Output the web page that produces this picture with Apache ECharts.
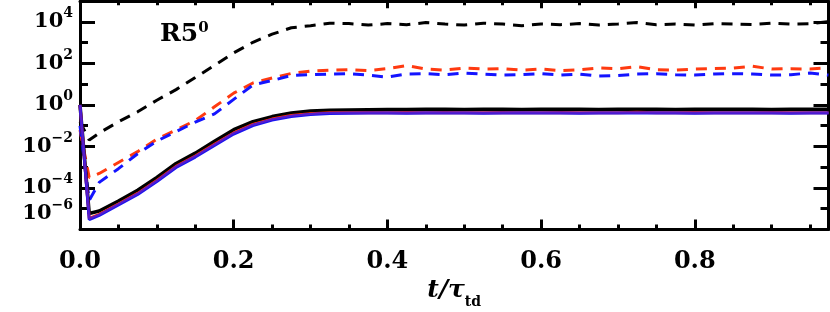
<!DOCTYPE html>
<html><head><meta charset="utf-8">
<script src="https://cdn.jsdelivr.net/npm/echarts@6/dist/echarts.min.js"></script>
<style>html,body{margin:0;padding:0;background:#fff}#c{width:830px;height:312px}</style>
</head><body><div id="c"></div>
<script>
// time in units of t / tau_td
const tValues = [0, 0.012, 0.025, 0.05, 0.075, 0.1, 0.125, 0.15, 0.175, 0.2, 0.225, 0.25, 0.275, 0.3, 0.325, 0.35, 0.375, 0.4, 0.425, 0.45, 0.475, 0.5, 0.525, 0.55, 0.575, 0.6, 0.625, 0.65, 0.675, 0.7, 0.725, 0.75, 0.775, 0.8, 0.825, 0.85, 0.875, 0.9, 0.925, 0.95, 0.974];
// log10 of plotted quantities
const blackDashedLog = [-0.8, -1.69, -1.35, -0.81, -0.33, 0.23, 0.74, 1.32, 1.91, 2.51, 3.02, 3.41, 3.72, 3.82, 3.94, 3.92, 3.85, 3.92, 3.87, 3.97, 3.90, 3.85, 3.94, 3.90, 3.82, 3.90, 3.87, 3.92, 3.85, 3.90, 3.97, 3.87, 3.90, 3.85, 3.92, 3.90, 3.87, 3.94, 3.90, 3.92, 4.02];
const redDashedLog = [-1.2, -3.5, -3.30, -2.77, -2.25, -1.64, -1.20, -0.75, -0.09, 0.57, 1.06, 1.30, 1.52, 1.63, 1.68, 1.70, 1.66, 1.75, 1.90, 1.73, 1.68, 1.78, 1.73, 1.75, 1.68, 1.73, 1.66, 1.70, 1.78, 1.75, 1.85, 1.70, 1.68, 1.73, 1.75, 1.78, 1.87, 1.73, 1.75, 1.73, 1.80];
const blueDashedLog = [-1.0, -4.6, -3.73, -3.07, -2.35, -1.74, -1.28, -0.83, -0.43, 0.27, 0.96, 1.18, 1.42, 1.46, 1.49, 1.51, 1.44, 1.34, 1.49, 1.51, 1.46, 1.54, 1.49, 1.44, 1.46, 1.51, 1.44, 1.49, 1.39, 1.42, 1.49, 1.51, 1.46, 1.44, 1.49, 1.51, 1.49, 1.44, 1.46, 1.54, 1.44];
const blackSolidLog = [0, -5.23, -5.11, -4.63, -4.11, -3.49, -2.82, -2.32, -1.75, -1.19, -0.80, -0.56, -0.39, -0.29, -0.26, -0.24, -0.23, -0.22, -0.22, -0.21, -0.21, -0.22, -0.21, -0.21, -0.22, -0.21, -0.21, -0.21, -0.22, -0.21, -0.21, -0.21, -0.22, -0.21, -0.21, -0.21, -0.21, -0.22, -0.21, -0.21, -0.21];
const redSolidLog = [0, -5.46, -5.27, -4.77, -4.26, -3.64, -2.96, -2.46, -1.90, -1.35, -0.94, -0.68, -0.51, -0.42, -0.38, -0.37, -0.36, -0.37, -0.36, -0.37, -0.36, -0.37, -0.37, -0.36, -0.37, -0.37, -0.36, -0.37, -0.37, -0.37, -0.35, -0.37, -0.37, -0.36, -0.37, -0.37, -0.37, -0.36, -0.37, -0.37, -0.37];
const blueSolidLog = [0, -5.52, -5.32, -4.82, -4.31, -3.69, -3.01, -2.51, -1.95, -1.40, -0.99, -0.73, -0.56, -0.46, -0.41, -0.40, -0.39, -0.39, -0.40, -0.39, -0.39, -0.39, -0.40, -0.39, -0.39, -0.39, -0.39, -0.40, -0.39, -0.39, -0.39, -0.39, -0.39, -0.40, -0.39, -0.39, -0.39, -0.39, -0.40, -0.39, -0.39];
const purpleSolidLog = [0, -5.48, -5.28, -4.78, -4.27, -3.65, -2.97, -2.47, -1.91, -1.36, -0.95, -0.69, -0.52, -0.43, -0.38, -0.37, -0.37, -0.37, -0.37, -0.36, -0.37, -0.37, -0.37, -0.37, -0.36, -0.37, -0.37, -0.37, -0.37, -0.37, -0.37, -0.36, -0.37, -0.37, -0.37, -0.37, -0.37, -0.37, -0.37, -0.37, -0.37];
const xTickValues = [0, 0.2, 0.4, 0.6, 0.8];
const yTickExponents = [-6, -4, -2, 0, 2, 4];
const panelLabel = 'R5';
const panelSup = '0';

function pairs(arr){ return tValues.map((t,i)=>[t, arr[i]]); }

const FONT = 'DejaVu Serif';
const chart = echarts.init(document.getElementById('c'), null, {renderer:'canvas'});

const grid = {left:80, right:1.5, top:1.2, bottom:82.5, outerBoundsMode:'none'};
const XMIN = 0, XMAX = 0.974, YMIN = -6, YMAX = 5;

function xAx(pos, interval, len, labels, showLine){
  return {
    type:'value', position:pos, min:XMIN, max:XMAX, interval:interval,
    axisLine:{show:showLine, onZero:false, lineStyle:{color:'#000', width:3}},
    axisTick:{show:true, inside:true, length:len, lineStyle:{color:'#000', width:3}},
    splitLine:{show:false},
    axisLabel: labels ? {
      show:true, margin:20, color:'#000', fontFamily:FONT, fontWeight:'bold', fontSize:24,
      showMinLabel:true, hideOverlap:false,
      formatter: v => xTickValues.some(x=>Math.abs(x-v)<1e-6) ? v.toFixed(1) : ''
    } : {show:false}
  };
}
const yRich = {
  b:{fontFamily:FONT, fontWeight:'bold', fontSize:21, lineHeight:21, verticalAlign:'bottom', color:'#000'},
  s:{fontFamily:FONT, fontWeight:'bold', fontSize:14, lineHeight:14, padding:[0,0,12,0], verticalAlign:'bottom', color:'#000'}
};
function expLabel(e){
  const s = e<0 ? '\u2212'+(-e) : String(e);
  return '{b|10}{s|'+s+'}';
}
// which: 'main' shows all labels except the bottom one, 'bottom' shows only the bottom one
function yAx(pos, interval, len, which, showLine){
  let axisLabel = {show:false};
  if (which === 'main') {
    axisLabel = {
      show:true, margin:7, color:'#000', rich:yRich, hideOverlap:false,
      formatter: v => {
        const e = Math.round(v);
        if (Math.abs(v-e)>1e-6 || e===YMIN || yTickExponents.indexOf(e)<0) return '';
        return expLabel(e);
      }
    };
  } else if (which === 'bottom') {
    axisLabel = {
      show:true, margin:7, color:'#000', rich:yRich, verticalAlign:'bottom', padding:[0,0,5,0],
      showMinLabel:true, hideOverlap:false,
      formatter: v => (Math.abs(v-YMIN)<1e-6 ? expLabel(YMIN) : '')
    };
  }
  return {
    type:'value', position:pos, min:YMIN, max:YMAX, interval:interval,
    axisLine:{show:showLine, onZero:false, lineStyle:{color:'#000', width:3}},
    axisTick:{show:true, inside:true, length:len, lineStyle:{color:'#000', width:3}},
    splitLine:{show:false},
    axisLabel
  };
}

const xAxes = [
  Object.assign(xAx('bottom', 0.2, 10, true, true), {
    name:'{i|t/\u03c4}{sub|td}', nameLocation:'middle', nameGap:47,
    nameTextStyle:{ rich:{
      i:{fontFamily:FONT, fontStyle:'italic', fontWeight:'bold', fontSize:25, lineHeight:26, padding:[0,0,6,0], verticalAlign:'bottom', color:'#000'},
      sub:{fontFamily:FONT, fontWeight:'bold', fontSize:14, lineHeight:14, verticalAlign:'bottom', color:'#000'}
    }}
  }),
  xAx('bottom', 0.05, 5, false, false),
  xAx('top', 0.2, 7, false, true),
  xAx('top', 0.05, 4, false, false)
];
const yAxes = [
  yAx('left', 2, 15, 'main', true),
  yAx('left', 1, 8, 'bottom', false),
  yAx('right', 2, 15, 'none', true),
  yAx('right', 1, 8, 'none', false)
];

function line(name, arr, color, width, dashed, z){
  return {
    name, type:'line', xAxisIndex:0, yAxisIndex:0, data:pairs(arr), symbol:'none', z:z,
    lineStyle:{color, width, type: dashed ? [11,8] : 'solid'}, silent:true
  };
}

chart.setOption({
  animation:false,
  backgroundColor:'#fff',
  grid,
  title:{
    text:'{a|'+panelLabel+'}{s|'+panelSup+'}', left:155, top:17,
    textStyle:{rich:{
      a:{fontFamily:FONT, fontWeight:'bold', fontSize:25, lineHeight:25, verticalAlign:'bottom', color:'#000'},
      s:{fontFamily:FONT, fontWeight:'bold', fontSize:15, lineHeight:15, padding:[0,0,11,0], verticalAlign:'bottom', color:'#000'}
    }}
  },
  xAxis:xAxes,
  yAxis:yAxes,
  series:[
    line('black dashed', blackDashedLog, '#000', 3, true, 2),
    line('red dashed', redDashedLog, '#ff3a10', 3, true, 3),
    line('blue dashed', blueDashedLog, '#1414ff', 3, true, 4),
    line('black solid', blackSolidLog, '#000', 3.5, false, 5),
    line('red solid', redSolidLog, '#ff2a00', 3, false, 6),
    line('blue solid', blueSolidLog, '#1a14f0', 3, false, 7),
    line('purple solid', purpleSolidLog, '#5a1cc8', 2, false, 8)
  ]
});
</script></body></html>
